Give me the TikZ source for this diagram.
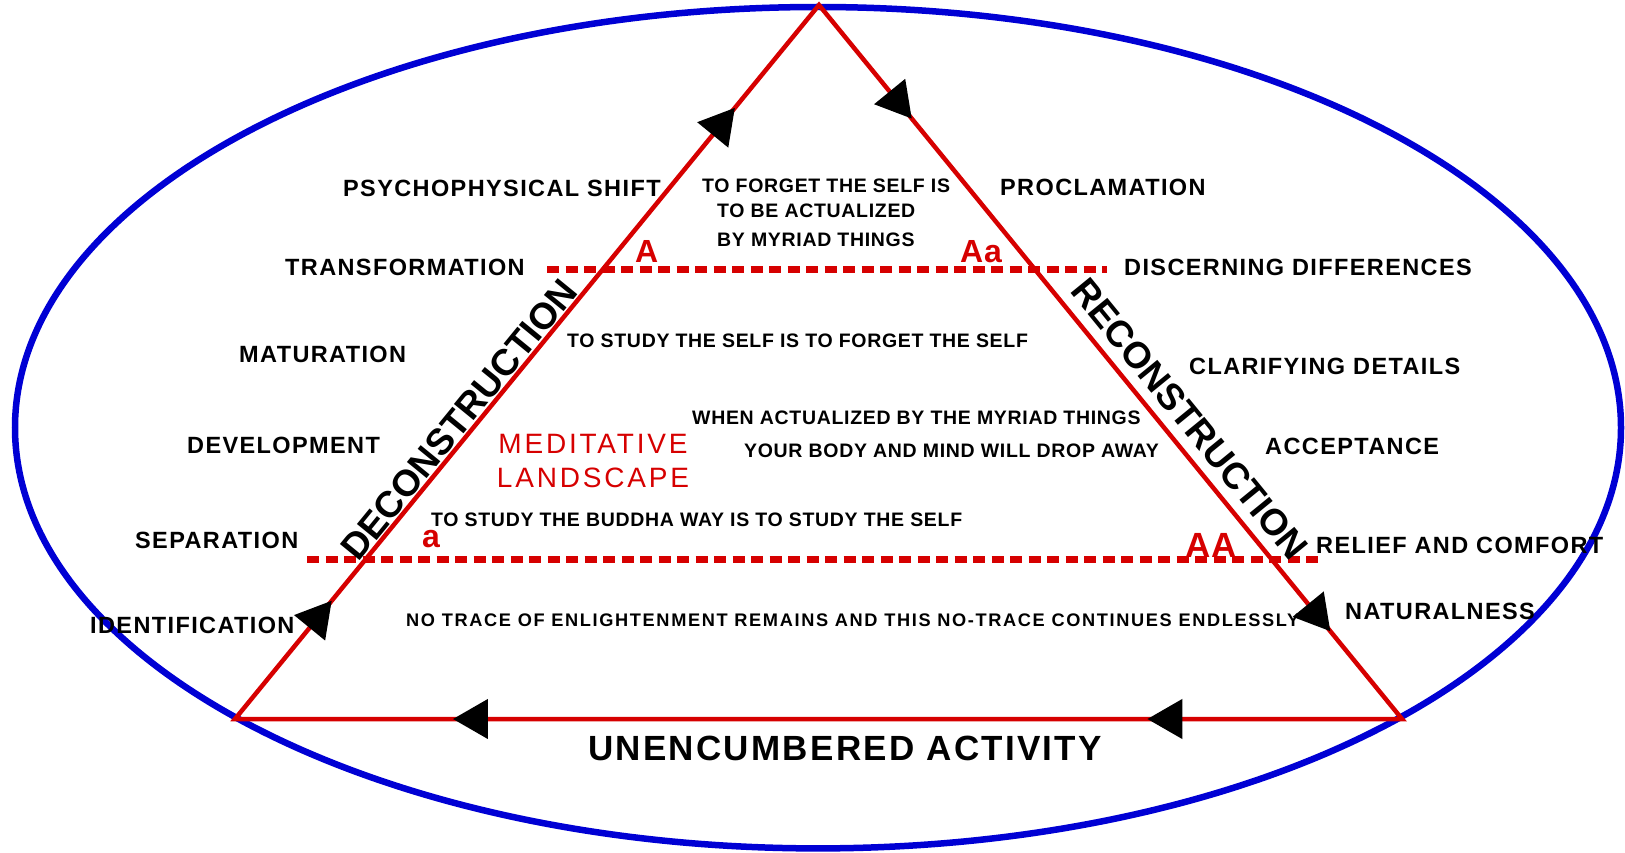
\documentclass[tikz,border=0pt]{standalone}
\usepackage{fontspec}
\setmainfont{Liberation Sans}
\usetikzlibrary{arrows.meta,decorations.markings}

\definecolor{zenred}{RGB}{214,0,0}
\definecolor{zenblue}{RGB}{0,0,212}

\tikzset{
  flowtip/.tip={Triangle[length=35pt,width=39pt,color=black]},
  ring/.style={zenblue, line width=6.5pt},
  side/.style={zenred, line width=4.5pt},
  level/.style={zenred, line width=7pt, dash pattern=on 12pt off 6.5pt},
  stage/.style={anchor=base west, inner sep=0pt, font=\fontsize{23.5}{28}\selectfont\bfseries\addfontfeatures{LetterSpace=5.9}},
  koan/.style={anchor=base west, inner sep=0pt, font=\fontsize{19.5}{23}\selectfont\bfseries\addfontfeatures{LetterSpace=3.5}},
  letter/.style={anchor=base west, inner sep=0pt, text=zenred, font=\fontsize{32}{38}\selectfont\bfseries\addfontfeatures{LetterSpace=3}},
  phase/.style={sloped, inner sep=0pt, font=\fontsize{37}{44}\selectfont\bfseries}
}

\begin{document}
\begin{tikzpicture}[x=1pt, y=-1pt]
    \useasboundingbox (0,0) rectangle (1625,853);
    \draw[ring] (818,427.7) ellipse [x radius=803, y radius=420.7];

    \coordinate (top) at (819,5);
    \coordinate (left) at (235,719);
    \coordinate (right) at (1402,719);
    \coordinate (aw) at (547,269);
    \coordinate (ae) at (1107,269);
    \coordinate (bw) at (307,559);
    \coordinate (be) at (1322,559);

    \draw[level] (aw) -- (ae);
    \draw[level] (bw) -- (be);
    \draw[side, postaction={decorate}, decoration={markings,
        mark=at position 152.8pt with {\arrow{flowtip}},
        mark=at position 789.6pt with {\arrow{flowtip}},
        mark=at position 1069pt with {\arrow{flowtip}},
        mark=at position 1730.8pt with {\arrow{flowtip}},
        mark=at position 2098.6pt with {\arrow{flowtip}},
        mark=at position 2793pt with {\arrow{flowtip}}}]
        (left) -- (top) -- (right) -- cycle;

    \path (left) -- (top) node[phase, pos=0.405, above=3pt] (decon) {DECONSTRUCTION};
    \path (top) -- (right) node[phase, pos=0.602, above=12pt] (recon) {RECONSTRUCTION};

    \node[stage] (psych) at (343,197) {PSYCHOPHYSICAL SHIFT};
    \node[stage] (transf) at (285,276) {TRANSFORMATION};
    \node[stage] (matur) at (239,362) {MATURATION};
    \node[stage] (devel) at (187,453) {DEVELOPMENT};
    \node[stage] (separ) at (135,548) {SEPARATION};
    \node[stage] (ident) at (90,633) {IDENTIFICATION};
    \node[stage] (procl) at (1000,196) {PROCLAMATION};
    \node[stage] (discern) at (1124,276) {DISCERNING DIFFERENCES};
    \node[stage] (clarif) at (1189,374) {CLARIFYING DETAILS};
    \node[stage] (accept) at (1265,454) {ACCEPTANCE};
    \node[stage] (relief) at (1316,553) {RELIEF AND COMFORT};
    \node[stage] (natural) at (1345,619) {NATURALNESS};

    \node[koan] (forget) at (702,193) {TO FORGET THE SELF IS};
    \node[koan] (actual) at (717,218) {TO BE ACTUALIZED};
    \node[koan] (myriad) at (717,247) {BY MYRIAD THINGS};
    \node[koan] (study) at (567,347) {TO STUDY THE SELF IS TO FORGET THE SELF};
    \node[koan] (when) at (692,424) {WHEN ACTUALIZED BY THE MYRIAD THINGS};
    \node[koan] (drop) at (744,457) {YOUR BODY AND MIND WILL DROP AWAY};
    \node[koan] (buddha) at (431,526) {TO STUDY THE BUDDHA WAY IS TO STUDY THE SELF};
    \node[koan, font=\fontsize{18.2}{22}\selectfont\bfseries\addfontfeatures{LetterSpace=9}] (notrace) at (406,626) {NO TRACE OF ENLIGHTENMENT REMAINS AND THIS NO-TRACE CONTINUES ENDLESSLY};

    \node[inner sep=0pt, align=center, text=zenred, font=\fontsize{28}{34.3}\selectfont\addfontfeatures{LetterSpace=10}] (landscape) at (593,461) {MEDITATIVE\\LANDSCAPE};
    \node[anchor=base west, inner sep=0pt, font=\fontsize{35}{42}\selectfont\bfseries\addfontfeatures{LetterSpace=6.5}] (activity) at (588,760) {UNENCUMBERED ACTIVITY};

    \node[letter] (bigA) at (635,262) {A};
    \node[letter] (bigAa) at (960,262) {Aa};
    \node[letter] (smalla) at (422,547) {a};
    \node[letter, font=\fontsize{35}{42}\selectfont\bfseries\addfontfeatures{LetterSpace=3}] (bigAA) at (1185,557) {AA};
\end{tikzpicture}
\end{document}
